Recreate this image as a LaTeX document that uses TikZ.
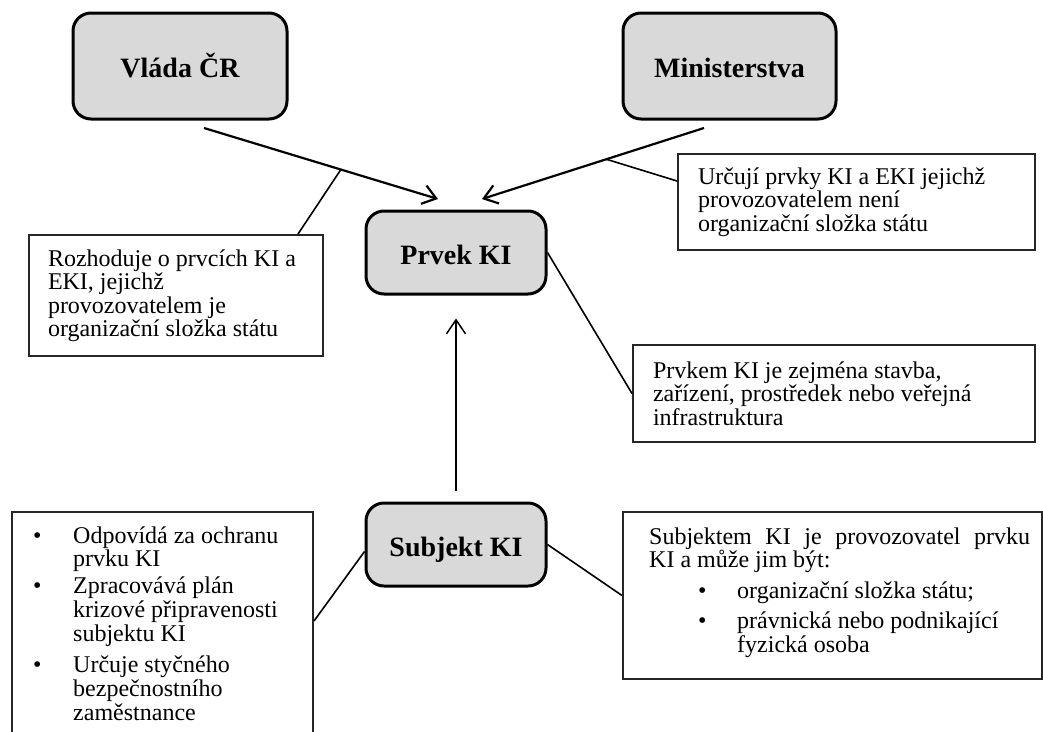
\documentclass[tikz,border=0pt]{standalone}
\usepackage{fontspec}
\setmainfont{Liberation Serif}
\usetikzlibrary{arrows.meta,calc}
\definecolor{boxgray}{HTML}{D9D9D9}
\begin{document}
\begin{tikzpicture}[x=1pt,y=-1pt,
  head/.style={draw, line width=3pt, rounded corners=18pt, fill=boxgray,
    font=\fontsize{28}{32}\selectfont\bfseries, text height=23pt, text depth=0pt,
    minimum width=180pt, minimum height=83pt},
  note/.style={draw=black!85, line width=2pt, rectangle, fill=white,
    font=\fontsize{24}{23.5}\selectfont, align=flush left, inner ysep=0pt, inner xsep=20pt},
  notetext/.style={inner sep=0pt, anchor=base west, font=\fontsize{24}{23.5}\selectfont},
  arr/.style={line width=2.2pt, -{Straight Barb[length=13pt,width=19pt,line width=2.2pt]}},
  uparr/.style={line width=1.5pt, -{Straight Barb[length=14pt,width=19pt,line width=1.5pt]}},
  link/.style={line width=1.6pt}]
\clip (0,0) rectangle (1043,731);
\fill[white] (0,0) rectangle (1043,731);

% main boxes
\node[head, minimum width=214pt, minimum height=106pt] (vlada) at (180,66) {Vláda ČR};
\node[head, minimum width=213pt, minimum height=106pt] (mini) at (729.5,66) {Ministerstva};
\node[head] (prvek) at (456,252.5) {Prvek KI};
\node[head] (subjekt) at (456,544.5) {Subjekt KI};

% note boxes
\node[note, minimum width=294pt, minimum height=121pt, text width=256pt, inner xsep=19pt]
  (rozh) at (176,295.5) {Rozhoduje o prvcích KI a\\EKI, jejichž\\provozovatelem je\\organizační složka státu};
\node[note, minimum width=357pt, minimum height=96pt, text width=317pt]
  (urc) at (856.5,202) {Určují prvky KI a EKI jejichž\\provozovatelem není\\organizační složka státu};
\node[note, minimum width=402pt, minimum height=97pt, text width=362pt]
  (prvk) at (834,393.5) {Prvkem KI je zejména stavba,\\zařízení, prostředek nebo veřejná\\infrastruktura};

\node[note, minimum width=419pt, minimum height=167pt, inner sep=0pt] (rb) at (832.5,595.5) {};
\node[notetext] (rbt) at (649,544) {\parbox[t]{381pt}{Subjektem KI je provozovatel prvku\linebreak KI a může jim být:\par\vspace{7.5pt}%
\hspace*{49pt}\begin{tabular}[t]{@{}p{39pt}@{}l@{}}\textbullet & organizační složka státu;\\[6.5pt]
\textbullet & právnická nebo podnikající\\ & fyzická osoba\end{tabular}}};

\node[note, minimum width=301pt, minimum height=248pt, inner sep=0pt] (lb) at (162.5,636) {};
\node[notetext] (lbt) at (33,543) {\begin{tabular}[t]{@{}p{40pt}@{}l@{}}
\textbullet & Odpovídá za ochranu\\
 & prvku KI\\[3.5pt]
\textbullet & Zpracovává plán\\
 & krizové připravenosti\\
 & subjektu KI\\[7.5pt]
\textbullet & Určuje styčného\\
 & bezpečnostního\\
 & zaměstnance
\end{tabular}};

% arrows
\coordinate (va) at (204,128);
\coordinate (vb) at (438,199);
\coordinate (ma) at (704,128);
\coordinate (mb) at (482,199);
\draw[arr] (va) -- (vb);
\draw[arr] (ma) -- (mb);
\draw[uparr, shorten <=11pt, shorten >=23pt] (subjekt.north) -- (prvek.south);

% annotation links
\draw[link] ($(rozh.north east)+(-26,0)$) -- ($(va)!0.585!(vb)$);
\draw[link] ($(urc.north west)+(0,28)$) -- ($(ma)!0.44!(mb)$);
\draw[link] (prvek.east) -- (prvk.west);
\draw[link] ($(subjekt.west)+(0,7)$) -- ($(lb.north east)+(0,110)$);
\draw[link] (subjekt.east) -- (rb.west);
\end{tikzpicture}
\end{document}
